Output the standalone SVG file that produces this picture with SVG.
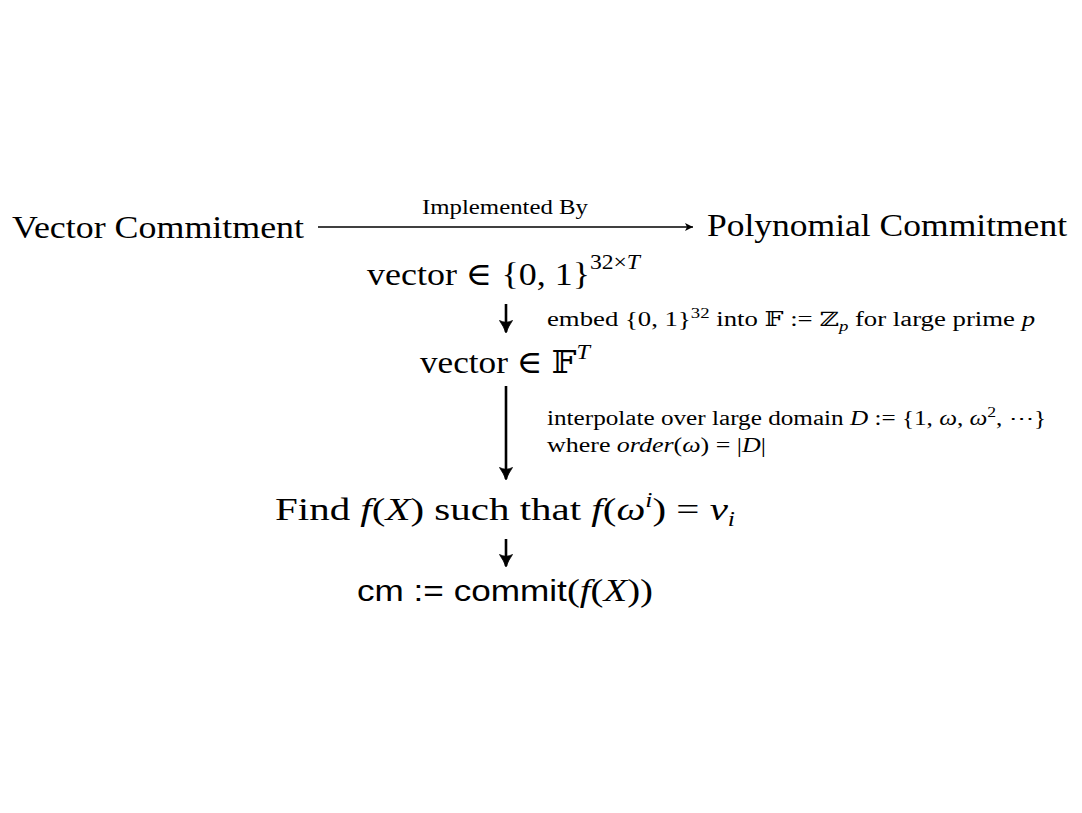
<svg xmlns="http://www.w3.org/2000/svg" width="1082" height="813" viewBox="0 0 1082 813">
<style>
.t{font-family:"Liberation Serif","DejaVu Serif",serif;fill:#000}
.big{font-size:32px}
.sm{font-size:20px}
.it{font-style:italic}
.sf{font-family:"Liberation Sans","DejaVu Sans",sans-serif}
.ln{stroke:#000;fill:none}
</style>
<defs>
<marker id="ah" viewBox="0 0 10 10" refX="9" refY="5" markerWidth="10" markerHeight="10" markerUnits="userSpaceOnUse" orient="auto">
<path d="M1,1 L9,5 L1,9 L3,5 Z" fill="#000"/>
</marker>
<marker id="dh" viewBox="0 0 14 14" refX="12" refY="7" markerWidth="14" markerHeight="14" markerUnits="userSpaceOnUse" orient="auto">
<path d="M0.5,0.5 Q7,5 13,7 Q7,9 0.5,13.5 Q4,7 0.5,0.5 Z" fill="#000" stroke="#000" stroke-width="0.8" stroke-linejoin="round"/>
</marker>
</defs>
<g id="vc"><text class="t big" x="12" y="238" textLength="292" lengthAdjust="spacingAndGlyphs">Vector Commitment</text></g>
<g id="pc"><text class="t big" x="707" y="236" textLength="360" lengthAdjust="spacingAndGlyphs">Polynomial Commitment</text></g>
<g id="v1"><text class="t big" x="367" y="285" textLength="273" lengthAdjust="spacingAndGlyphs">vector ∈ {0, 1}<tspan dy="-16" font-size="21">32×<tspan class="it">T</tspan></tspan></text></g>
<g id="v2"><text class="t big" x="420" y="373" textLength="170" lengthAdjust="spacingAndGlyphs">vector ∈ 𝔽<tspan font-size="22" class="it" dy="-14">T</tspan></text></g>
<g id="find"><text class="t big" x="275" y="520" textLength="460" lengthAdjust="spacingAndGlyphs">Find <tspan class="it">f</tspan>(<tspan class="it">X</tspan>) such that <tspan class="it">f</tspan>(<tspan class="it">ω</tspan><tspan class="it" font-size="20" dy="-13">i</tspan><tspan dy="13">) = </tspan><tspan class="it">v</tspan><tspan class="it" font-size="20" dy="6">i</tspan></text></g>
<g id="cm"><text class="t big" x="357" y="601" textLength="296" lengthAdjust="spacingAndGlyphs"><tspan class="sf" font-size="29">cm :=</tspan><tspan class="sf" font-size="29"> commit</tspan>(<tspan class="it">f</tspan>(<tspan class="it">X</tspan>))</text></g>
<g id="connectors">
<line class="ln" x1="318" y1="227" x2="693" y2="227" stroke-width="1.6" marker-end="url(#ah)"/>
<text class="t sm" x="422" y="214" textLength="166" lengthAdjust="spacingAndGlyphs">Implemented By</text>
<line class="ln" x1="506" y1="304" x2="506" y2="332" stroke-width="2.6" marker-end="url(#dh)"/>
<text class="t sm" x="547" y="326" textLength="488" lengthAdjust="spacingAndGlyphs">embed {0, 1}<tspan font-size="14" dy="-8">32</tspan><tspan dy="8"> into 𝔽 := ℤ</tspan><tspan class="it" font-size="14" dy="5">p</tspan><tspan dy="-5"> for large prime </tspan><tspan class="it">p</tspan></text>
<line class="ln" x1="506" y1="386" x2="506" y2="479" stroke-width="2.6" marker-end="url(#dh)"/>
<text class="t sm" x="547" y="425" textLength="499" lengthAdjust="spacingAndGlyphs">interpolate over large domain <tspan class="it">D</tspan> := {1, <tspan class="it">ω</tspan>, <tspan class="it">ω</tspan><tspan font-size="14" dy="-8">2</tspan><tspan dy="8">, ⋯}</tspan></text>
<text class="t sm" x="547" y="452" textLength="219" lengthAdjust="spacingAndGlyphs">where <tspan class="it">order</tspan>(<tspan class="it">ω</tspan>) = |<tspan class="it">D</tspan>|</text>
<line class="ln" x1="506" y1="539" x2="506" y2="566" stroke-width="2.6" marker-end="url(#dh)"/>
</g>
</svg>
